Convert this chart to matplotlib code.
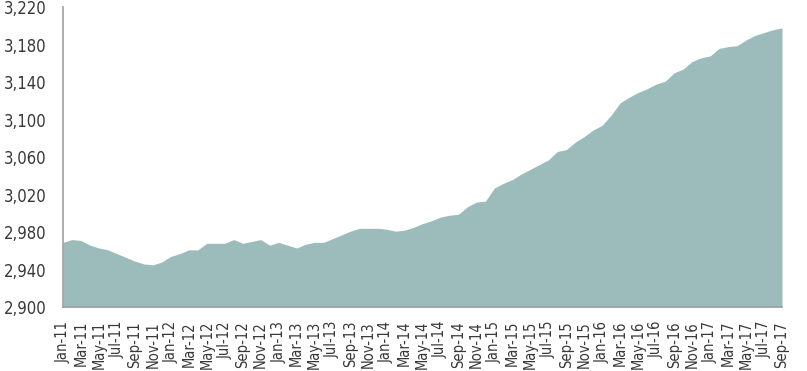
import matplotlib.pyplot as plt
import numpy as np
from matplotlib import font_manager

# monthly series, Jan-11 .. Sep-17
months = []
for yr in range(11, 18):
    for mo in ["Jan", "Feb", "Mar", "Apr", "May", "Jun",
               "Jul", "Aug", "Sep", "Oct", "Nov", "Dec"]:
        months.append(f"{mo}-{yr}")
months = months[:81]

values = [
    2969, 2972, 2971, 2966, 2963, 2961, 2957, 2953, 2949, 2946, 2945, 2948,
    2954, 2957, 2961, 2961, 2968, 2968, 2968, 2972, 2968, 2970, 2972, 2966,
    2969, 2966, 2963, 2967, 2969, 2969, 2973, 2977, 2981, 2984, 2984, 2984,
    2983, 2981, 2982, 2985, 2989, 2992, 2996, 2998, 2999, 3007, 3012, 3013,
    3027, 3032, 3036, 3042, 3047, 3052, 3057, 3066, 3068, 3076, 3082, 3089,
    3094, 3105, 3118, 3124, 3129, 3133, 3138, 3141, 3150, 3154, 3162, 3166,
    3168, 3176, 3178, 3179, 3185, 3190, 3193, 3196, 3198, 3200,
]
values = values[:81]

y_ticks = [2900, 2940, 2980, 3020, 3060, 3100, 3140, 3180, 3220]


def narrow_font():
    # look for any condensed / narrow face that is installed
    best = None
    for f in font_manager.fontManager.ttflist:
        name = f.name.lower()
        stretch = str(f.stretch).lower()
        narrow = "narrow" in name or "condensed" in name or "condensed" in stretch
        if not narrow or f.style != "normal":
            continue
        if "extra" in stretch or "ultra" in stretch or "semi" in stretch:
            continue
        w = f.weight if isinstance(f.weight, int) else 400
        score = abs(w - 400)
        if best is None or score < best[0]:
            best = (score, f.fname)
    if best:
        return font_manager.FontProperties(fname=best[1])
    return None


def main():
    fp = narrow_font()
    if fp is None:
        ysize, xsize = 10, 8
        fp = font_manager.FontProperties(family="DejaVu Sans")
    else:
        ysize, xsize = 12, 10.5

    fig = plt.figure(figsize=(8.07, 3.71), dpi=100)
    ax = fig.add_axes([0.078, 0.1725, 0.891, 0.808])

    x = np.arange(len(values))
    ax.fill_between(x, 2900, values, color="#9cbcbc", linewidth=0)

    ax.set_xlim(0, len(values) - 1)
    ax.set_ylim(2900, 3220)
    ax.set_yticks(y_ticks)
    ax.set_yticklabels([f"{v:,}" for v in y_ticks], color="#383838")
    ax.set_xticks(x[::2])
    ax.set_xticklabels(months[::2], rotation=90, color="#383838")
    for lab in ax.get_yticklabels():
        lab.set_fontproperties(fp)
        lab.set_fontsize(ysize)
    for lab in ax.get_xticklabels():
        lab.set_fontproperties(fp)
        lab.set_fontsize(xsize)
    ax.tick_params(axis="y", length=0, pad=12)
    ax.tick_params(axis="x", length=0, pad=10)

    for side in ["top", "right"]:
        ax.spines[side].set_visible(False)
    for side in ["left", "bottom"]:
        ax.spines[side].set_color("#a0a0a0")
        ax.spines[side].set_linewidth(1.2)

    fig.savefig("out.png", dpi=100)


if __name__ == "__main__":
    main()
